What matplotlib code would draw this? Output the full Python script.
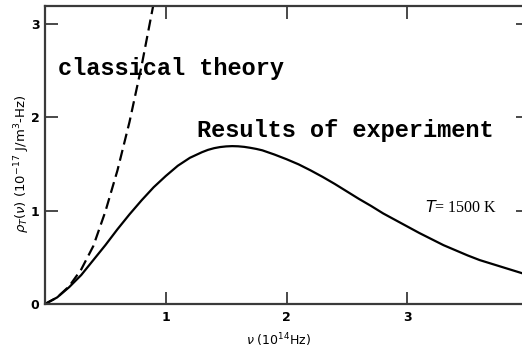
import matplotlib
matplotlib.use("Agg")
import matplotlib.pyplot as plt

# Spectral energy density at T = 1500 K (units of 1e-17 J/m^3-Hz) vs frequency (1e14 Hz)
freq_exp = [0.00, 0.10, 0.20, 0.30, 0.40, 0.50, 0.60, 0.70, 0.80, 0.90,
            1.00, 1.10, 1.20, 1.30, 1.35, 1.40, 1.45, 1.50, 1.55, 1.60,
            1.65, 1.70, 1.75, 1.80, 1.90,
            2.00, 2.10, 2.20, 2.30, 2.40, 2.50, 2.60, 2.70, 2.80, 2.90,
            3.00, 3.10, 3.20, 3.30, 3.40, 3.50, 3.60, 3.70, 3.80, 3.90, 4.00]
rho_exp = [0.00, 0.07, 0.18, 0.31, 0.47, 0.63, 0.80, 0.96, 1.11, 1.25,
           1.37, 1.48, 1.565, 1.625, 1.65, 1.668, 1.68, 1.687, 1.69, 1.688,
           1.682, 1.672, 1.66, 1.645, 1.60,
           1.55, 1.495, 1.43, 1.36, 1.285, 1.205, 1.125, 1.05, 0.97, 0.90,
           0.83, 0.76, 0.695, 0.63, 0.575, 0.52, 0.47, 0.43, 0.39, 0.35, 0.31]

freq_cls = [0.00, 0.10, 0.20, 0.30, 0.40, 0.50, 0.60, 0.70, 0.80, 0.90, 0.92]
rho_cls = [0.00, 0.07, 0.19, 0.37, 0.62, 0.99, 1.43, 1.95, 2.55, 3.22, 3.36]

x_ticks = [1, 2, 3]
y_ticks = [0, 1, 2, 3]

fig = plt.figure(figsize=(5.22, 3.49), dpi=100)
ax = fig.add_axes([45 / 522, 45 / 349, 483 / 522, 298 / 349])

ax.plot(freq_exp, rho_exp, color="black", lw=1.6, solid_capstyle="round")
ax.plot(freq_cls, rho_cls, color="black", lw=1.6, linestyle=(0, (5, 2.5)))

ax.set_xlim(0, 4.0)
ax.set_ylim(0, 3.19)

for s in ax.spines.values():
    s.set_color("#3a3a3a")
    s.set_linewidth(1.6)

ax.set_xticks(x_ticks)
ax.set_yticks(y_ticks)
ax.tick_params(direction="in", length=9, width=1.3, color="#3a3a3a",
               top=True, right=True, labelsize=9)
ax.tick_params(axis="x", pad=5)
ax.tick_params(axis="y", pad=4)
for lab in ax.get_xticklabels() + ax.get_yticklabels():
    lab.set_fontweight("bold")
    lab.set_family("DejaVu Sans")

ax.set_ylabel(r"$\rho_T(\nu)$ (10$^{-17}$ J/m$^3$-Hz)", fontsize=9.5)
ax.yaxis.set_label_coords(-0.027, 0.47)
fig.text(279 / 522, 9 / 349, r"$\nu$ (10$^{14}$Hz)", fontsize=9,
         ha="center", va="center")

ax.text(0.108, 2.45, "classical theory", family="Liberation Mono",
        fontweight="bold", fontsize=17, va="baseline", ha="left")
ax.text(1.26, 1.786, "Results of experiment", family="Liberation Mono",
        fontweight="bold", fontsize=17, va="baseline", ha="left")
ax.text(3.15, 0.98, r"$T$= 1500 K", family="Liberation Serif",
        fontsize=11.5, va="baseline", ha="left")

fig.savefig("out.png", dpi=100)
